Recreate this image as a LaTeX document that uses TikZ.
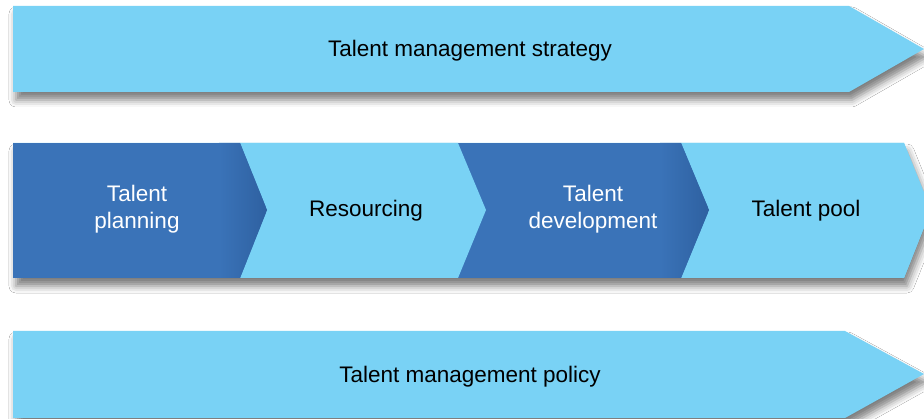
\documentclass[tikz,border=0pt]{standalone}
\usepackage{fontspec}
\setmainfont{Liberation Sans}
\usetikzlibrary{shadows.blur}
\definecolor{lightblue}{RGB}{121,210,245}
\definecolor{darkblue}{RGB}{58,115,184}
\definecolor{darkedge}{RGB}{46,96,160}
\tikzset{
  lightshape/.style={fill=lightblue, draw=none},
  darkshape/.style={fill=darkblue, draw=none},
  shadowed/.style={blur shadow={shadow xshift=3pt, shadow yshift=-8pt, shadow blur radius=7pt, shadow opacity=50}},
  lbl/.style={font=\fontsize{22.5}{27}\selectfont, align=center, text=black},
  wlbl/.style={lbl, text=white}
}
\begin{document}
\begin{tikzpicture}[x=1pt,y=-1pt]
\useasboundingbox (0,0) rectangle (924,419);
\clip (0,0) rectangle (924,419);
\fill[white] (0,0) rectangle (924,419);
% top arrow
\path[lightshape, shadowed] (13,6) -- (849,6) -- (924,49) -- (849,92) -- (13,92) -- cycle;
\node[lbl] (strategy) at (470,51) {Talent management strategy};
% middle band shadow base
\path[lightshape, shadowed] (13,143) -- (904,143) -- (931,210) -- (904,278) -- (13,278) -- cycle;
% chevrons
\path[lightshape] (681,143) -- (904,143) -- (931,210) -- (904,278) -- (681,278) -- cycle;
\begin{scope}
\clip (458,143) -- (681,143) -- (709,210) -- (681,278) -- (458,278) -- cycle;
\fill[darkblue] (458,143) rectangle (709,278);
\shade[left color=darkblue, right color=darkedge] (660,143) rectangle (710,278);
\end{scope}
\path[lightshape] (240,143) -- (458,143) -- (486,210) -- (458,278) -- (240,278) -- cycle;
\begin{scope}
\clip (13,143) -- (240,143) -- (267,210) -- (240,278) -- (13,278) -- cycle;
\fill[darkblue] (13,143) rectangle (267,278);
\shade[left color=darkblue, right color=darkedge] (219,143) rectangle (268,278);
\end{scope}
\node[wlbl] (planning) at (137,209) {Talent\\planning};
\node[lbl] (resourcing) at (366,211) {Resourcing};
\node[wlbl] (development) at (593,209) {Talent\\development};
\node[lbl] (pool) at (806,211) {Talent pool};
% bottom arrow
\path[lightshape, shadowed] (13,331) -- (845,331) -- (924,374) -- (845,418) -- (13,418) -- cycle;
\node[lbl] (policy) at (470,377) {Talent management policy};
\end{tikzpicture}
\end{document}
